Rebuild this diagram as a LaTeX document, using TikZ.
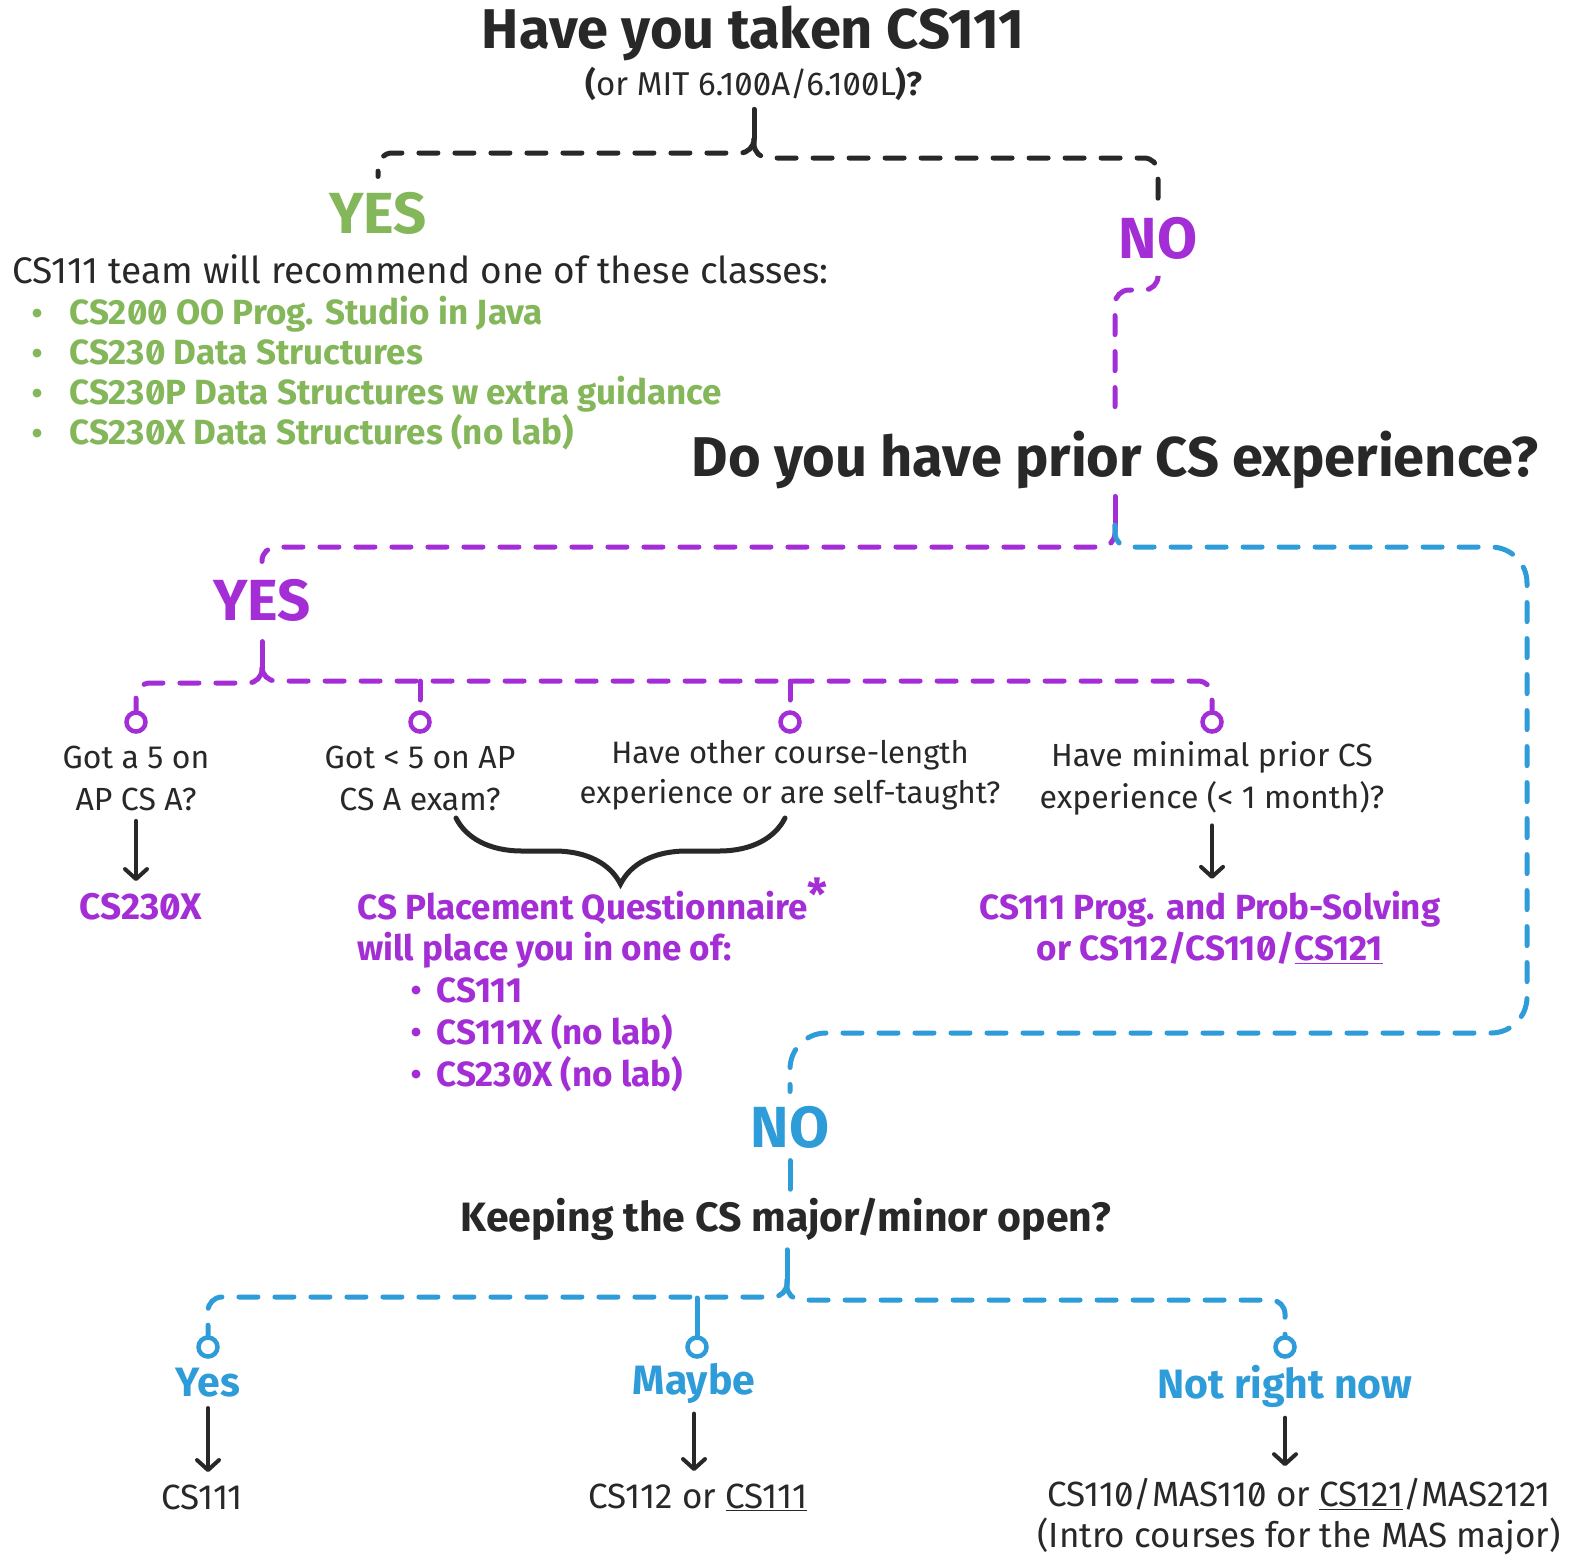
\documentclass[tikz,border=0pt]{standalone}
\usepackage{fontspec}
\setmainfont{Fira Sans}[Numbers=SlashedZero]
\usetikzlibrary{arrows.meta,decorations.pathreplacing}
\def\linew{5pt}
\def\tapy{722}
\def\opty{1347}
\definecolor{ink}{RGB}{40,40,40}
\definecolor{csgreen}{RGB}{132,182,90}
\definecolor{cspurple}{RGB}{164,46,214}
\definecolor{csblue}{RGB}{46,156,216}

\begin{document}
\begin{tikzpicture}[x=1pt,y=-1pt,line width=\linew,line cap=round]
            \tikzstyle{question}=[font=\bfseries\fontsize{56}{60}\selectfont,text=ink,inner sep=0pt]
            \tikzstyle{answer}=[font=\bfseries\fontsize{58}{62}\selectfont,inner sep=0pt]
            \tikzstyle{plain}=[font=\fontsize{32}{42}\selectfont,text=ink,align=center,inner sep=0pt]
            \tikzstyle{course}=[font=\bfseries\fontsize{35}{41}\selectfont,align=center,inner sep=0pt]
            \tikzstyle{option}=[font=\bfseries\fontsize{41}{46}\selectfont,text=csblue,inner sep=0pt]
            \tikzstyle{branch}=[dash pattern=on 19pt off 17pt,rounded corners=14pt]
            \tikzstyle{tap}=[circle,draw,fill=white,line width=4.5pt,minimum size=19pt,inner sep=0pt]
            \tikzstyle{result}=[ink,line width=4pt,-{Straight Barb[round,length=10pt,width=22pt]}]

            \fill[white] (0,0) rectangle (1582,1567);
            \useasboundingbox (0,0) rectangle (1582,1567);

            % First question
            \node[question] (q1) at (753,33) {Have you taken CS111};
            \node[plain,font=\fontsize{33}{36}\selectfont] (q1b) at (754,84) {\textbf{(}or MIT 6.100A/6.100L\textbf{)?}};
            \coordinate (j1) at (754,139);
            \draw[ink,shorten <=6pt] (q1b.south) -- (j1);

            \node[answer,text=csgreen] (yes1) at (378,213) {YES};
            \node[answer,text=cspurple] (no1) at (1158,238) {NO};
            \draw[ink,branch,shorten >=13pt] (j1) |- (378,153) -- (yes1.north);
            \draw[ink,branch,shorten >=14pt] (j1) |- (1158,158) -- (no1.north);

            % Classes for the YES side
            \node[plain,font=\fontsize{37}{40}\selectfont,anchor=base west] (rec) at (10,283) {CS111 team will recommend one of these classes:};
            \foreach \name/\y/\txt in {1/313/{CS200 OO Prog. Studio in Java},2/353/{CS230 Data Structures},3/393/{CS230P Data Structures w extra guidance},4/433/{CS230X Data Structures (no lab)}}
            {
                \fill[csgreen] (37,\y) circle (4.5pt);
                \node[course,text=csgreen,anchor=base west] (G-\name) at (67,\y+11) {\txt};
            }

            % Second question
            \node[question] (q2) at (1115,460) {Do you have prior CS experience?};
            \draw[cspurple,branch,shorten <=16pt,shorten >=9pt] (no1.south) |- (1115,290) -- (q2.north);
            \coordinate (j2) at (1115,525);
            \draw[cspurple,shorten <=5pt] (q2.south) -- (j2);

            \node[answer,text=cspurple] (yes2) at (262,600) {YES};
            \node[answer,text=csblue] (no2) at (790,1127) {NO};
            \draw[cspurple,branch,shorten >=15pt] (j2) |- (262,547) -- (yes2.north);
            \draw[csblue,dash pattern=on 19pt off 17pt,shorten >=12pt] (j2) [rounded corners=14pt] |- (1300,547) [rounded corners=36pt] -| (1527,1033) -| (no2.north);

            % Prior experience cases
            \coordinate (j3) at (262,668);
            \coordinate (h3) at (0,681);
            \draw[cspurple,shorten <=18pt] (yes2.south) -- (j3);
            \foreach \name/\x in {1/136,2/420,3/790,4/1212}
                \node[tap,draw=cspurple] (T-\name) at (\x,\tapy) {};
            \draw[cspurple,branch] (j3) |- (136,683) -- (T-1.north);
            \draw[cspurple,branch] (j3) |- (1212,681) -- (T-4.north);
            \foreach \name in {2,3}
                \draw[cspurple,branch] (T-\name |- h3) -- (T-\name.north);

            \node[plain] (Q-1) at (136,778) {Got a 5 on\\AP CS A?};
            \node[plain] (Q-2) at (420,778) {Got < 5 on AP\\CS A exam?};
            \node[plain,font=\fontsize{31}{40}\selectfont] (Q-3) at (790,775) {Have other course-length\\experience or are self-taught?};
            \node[plain] (Q-4) at (1212,778) {Have minimal prior CS\\experience (< 1 month)?};

            \node[course,font=\bfseries\fontsize{37}{41}\selectfont,text=cspurple] (R-1) at (141,907) {CS230X};
            \node[course,text=cspurple] (R-4) at (1210,928) {CS111 Prog. and Prob-Solving\\or CS112/CS110/\underline{CS121}};
            \draw[result,shorten <=8pt,shorten >=10pt] (Q-1.south) -- (Q-1.south |- R-1.north);
            \draw[result,shorten <=8pt,shorten >=10pt] (Q-4.south) -- (Q-4.south |- R-4.north);

            % Placement questionnaire
            \coordinate (b1) at (456,818);
            \coordinate (b2) at (785,818);
            \draw[ink,decorate,decoration={brace,amplitude=66pt,mirror}] (b1) -- (b2);
            \node[course,text=cspurple,anchor=base west] (P) at (355,919) {CS Placement Questionnaire\raisebox{9pt}{\fontsize{44}{44}\selectfont*}};
            \node[course,text=cspurple,anchor=base west] (P2) at (355,960) {will place you in one of:};
            \foreach \name/\y/\txt in {1/990/{CS111},2/1032/{CS111X (no lab)},3/1074/{CS230X (no lab)}}
            {
                \fill[cspurple] (416,\y) circle (4.5pt);
                \node[course,text=cspurple,anchor=base west] (P-\name) at (434,\y+12) {\txt};
            }

            % Third question
            \node[question,font=\bfseries\fontsize{41}{46}\selectfont] (q3) at (786,1219) {Keeping the CS major/minor open?};
            \draw[csblue,shorten <=10pt,shorten >=6pt] (no2.south) -- (no2.south |- q3.north);
            \coordinate (j4) at (787,1280);
            \coordinate (h4) at (0,1298);
            \draw[csblue,shorten <=7pt] (q3.south -| j4) -- (j4);

            \foreach \name/\x in {1/208,2/697,3/1285}
                \node[tap,draw=csblue] (U-\name) at (\x,\opty) {};
            \draw[csblue,branch] (j4) |- (208,1297) -- (U-1.north);
            \draw[csblue,branch] (j4) |- (1285,1300) -- (U-3.north);
            \draw[csblue] (U-2 |- h4) -- (U-2.north);

            \node[option] (L-1) at (208,1383) {Yes};
            \node[option] (L-2) at (694,1383) {Maybe};
            \node[option] (L-3) at (1285,1386) {Not right now};

            \node[plain,font=\fontsize{35}{41}\selectfont] (E-1) at (202,1497) {CS111};
            \node[plain,font=\fontsize{35}{41}\selectfont] (E-2) at (698,1497) {CS112 or \underline{CS111}};
            \node[plain,font=\fontsize{35}{41}\selectfont] (E-3) at (1299,1517) {CS110/MAS110 or \underline{CS121}/MAS2121\\(Intro courses for the MAS major)};

            \draw[result,shorten <=8pt,shorten >=10pt] (L-1.south) -- (L-1.south |- E-1.north);
            \draw[result,shorten <=8pt,shorten >=10pt] (L-2.south) -- (L-2.south |- E-2.north);
            \draw[result,shorten <=8pt,shorten >=10pt] (L-3.south) -- (L-3.south |- E-3.north);
        \end{tikzpicture}
\end{document}
